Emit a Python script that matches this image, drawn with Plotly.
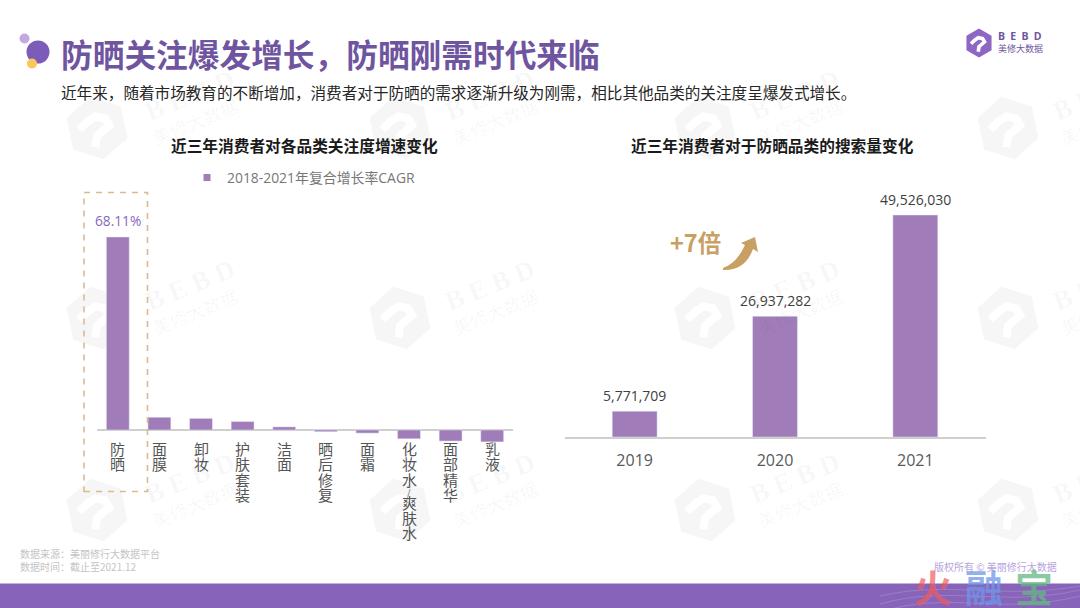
import math
import plotly.graph_objects as go

# ---------- data ----------
categories = ["防晒", "面膜", "卸妆", "护肤套装", "洁面", "晒后修复", "面霜", "化妆水/爽肤水", "面部精华", "乳液"]
cagr_values = [68.11, 4.5, 4.1, 3.0, 1.1, -0.6, -1.1, -3.1, -3.9, -4.2]
years = ["2019", "2020", "2021"]
search_values = [5771709, 26937282, 49526030]

W, H = 1080, 608
CJK = "Noto Sans CJK SC"
SANS = "Open Sans, Noto Sans CJK SC, sans-serif"
BAR = "#a07cb8"


def px(x):
    return x / W


def py(y):
    return 1 - y / H


def path(points, close=True):
    s = "M" + " L".join(f"{px(x):.5f},{py(y):.5f}" for x, y in points)
    return s + (" Z" if close else "")


shapes, annotations = [], []


def text(x, y, s, size, color, bold=False, anchor="left", family=SANS, angle=0):
    annotations.append(dict(xref="paper", yref="paper", x=px(x), y=py(y), text=f"<b>{s}</b>" if bold else s,
                            showarrow=False, xanchor=anchor, yanchor="middle", textangle=angle, borderpad=0,
                            font=dict(size=size, color=color, family=family)))


def hexagon(cx, cy, r, fill, layer="below", rot=12):
    pts = []
    for i in range(6):
        a = math.radians(rot + 90 + i * 60)
        pts.append((cx + r * math.cos(a), cy - r * math.sin(a)))
    shapes.append(dict(type="path", xref="paper", yref="paper", path=path(pts), fillcolor=fill,
                       line=dict(width=0), layer=layer))
    hook = [(cx + r * lx, cy + r * ly) for lx, ly in
            [(-.55, .05), (-.3, -.2), (-.05, -.36), (.25, -.3), (.38, -.08), (.15, .12), (.0, .25), (-.05, .6)]]
    shapes.append(dict(type="path", xref="paper", yref="paper", path=path(hook, close=False),
                       line=dict(color="white", width=max(2, r * .25)), fillcolor="rgba(0,0,0,0)", layer=layer))


def circle(cx, cy, r, color):
    shapes.append(dict(type="circle", xref="paper", yref="paper", x0=px(cx - r), x1=px(cx + r),
                       y0=py(cy + r), y1=py(cy - r), fillcolor=color, line=dict(width=0), layer="above"))


# ---------- background watermark ----------
for hx, hy in [(x, y) for x in (97, 400, 705, 1008) for y in (128, 318, 510)]:
    hexagon(hx, hy, 32, "#f6f6f6")
for tx, ty in [(x, y) for x in (190, 490, 795, 1098) for y in (95, 285, 478)]:
    text(tx, ty, "B E B D", 27, "rgba(0,0,0,0.04)", bold=True, anchor="center", family="Liberation Serif", angle=-22)
    text(tx + 5, ty + 26, "美修大数据", 18, "rgba(0,0,0,0.04)", anchor="center", family=CJK, angle=-22)

# ---------- header ----------
circle(24.5, 38.5, 5, "#c3a9e0")
circle(38, 52, 11.5, "#7d5bb8")
circle(32, 63.5, 5, "#fbc75c")
text(60, 53, "防晒关注爆发增长，防晒刚需时代来临", 31.7, "#6f559f", bold=True, family=CJK)
text(60, 92, "近年来，随着市场教育的不断增加，消费者对于防晒的需求逐渐升级为刚需，相比其他品类的关注度呈爆发式增长。",
     15.6, "#262626", family=CJK)
hexagon(979, 43, 14.5, "#8e66c4", layer="above", rot=0)
text(1020, 36, "B\u2002E\u2002B\u2002D", 10.5, "#6f559f", bold=True, anchor="center", family="Open Sans")
text(1020, 49, "美修大数据", 9, "#6f559f", anchor="center", family=CJK)

# ---------- chart titles ----------
text(304, 146, "近三年消费者对各品类关注度增速变化", 15.7, "#1a1a1a", bold=True, anchor="center", family=CJK)
text(772, 145, "近三年消费者对于防晒品类的搜索量变化", 15.7, "#1a1a1a", bold=True, anchor="center", family=CJK)

# ---------- left vertical category labels ----------
for cat in categories:
    offset = 18.5
    for ch in cat:
        if ch == "/":
            offset -= 2
        annotations.append(dict(xref="x", yref="y", x=cat, y=0, yshift=-offset, text=ch, showarrow=False,
                                xanchor="center", yanchor="middle",
                                font=dict(size=9 if ch == "/" else 15, color="#555555", family=CJK)))
        offset += 10 if ch == "/" else 15.3

# ---------- value labels ----------
annotations.append(dict(xref="x", yref="y", x=categories[0], y=cagr_values[0], yshift=16,
                        text=f"{cagr_values[0]:.2f}%", showarrow=False, xanchor="center", yanchor="middle",
                        font=dict(size=13.7, color="#8a68bc", family=SANS)))
for year, value in zip(years, search_values):
    annotations.append(dict(xref="x2", yref="y2", x=years.index(year), y=value, yshift=16, text=f"{value:,}",
                            showarrow=False, xanchor="center", yanchor="middle",
                            font=dict(size=14, color="#404040", family=SANS)))

# ---------- highlight frame ----------
shapes.append(dict(type="rect", xref="paper", yref="paper", x0=px(84), x1=px(147.5), y0=py(491.5), y1=py(192.5),
                   line=dict(color="#dcb98f", width=1.6, dash="6px,6px"), fillcolor="rgba(0,0,0,0)", layer="above"))

# ---------- growth arrow ----------
text(695, 242, "+7倍", 23.5, "#c9a063", bold=True, anchor="center", family=CJK)
shapes.append(dict(type="path", xref="paper", yref="paper", fillcolor="#c9a063", line=dict(width=0), layer="above",
                   path=(f"M{px(723):.5f},{py(268):.5f} Q{px(737):.5f},{py(263):.5f} {px(745):.5f},{py(245):.5f} "
                         f"L{px(741):.5f},{py(243):.5f} L{px(755):.5f},{py(237):.5f} L{px(758):.5f},{py(252):.5f} "
                         f"L{px(753):.5f},{py(249):.5f} Q{px(745):.5f},{py(271):.5f} {px(723):.5f},{py(270):.5f} Z")))

# ---------- footer ----------
shapes.append(dict(type="rect", xref="paper", yref="paper", x0=0, x1=1, y0=0, y1=py(583.5),
                   fillcolor="#8764ba", line=dict(width=0), layer="above"))
for a, b in [(590, 604), (596, 612), (586, 596)]:
    shapes.append(dict(type="path", xref="paper", yref="paper", layer="above", fillcolor="rgba(0,0,0,0)",
                       line=dict(color="rgba(255,255,255,0.16)", width=1),
                       path=(f"M{px(880):.5f},{py(b):.5f} C{px(950):.5f},{py(a - 6):.5f} {px(1000):.5f},"
                             f"{py(b + 4):.5f} {px(1080):.5f},{py(a):.5f}")))
text(19, 553, "数据来源：美丽修行大数据平台", 10, "#c4c4c4", family=CJK)
text(19, 566, "数据时间：截止至2021.12", 10, "#c4c4c4", family=CJK)
text(1058, 566, "版权所有 © 美丽修行大数据", 10, "#b8a4de", anchor="right", family=CJK)
text(933, 585, "<b>火</b>", 38, "rgba(240,90,90,0.7)", anchor="center", family=CJK)
text(984, 585, "<b>融</b>", 38, "rgba(110,150,235,0.75)", anchor="center", family=CJK)
text(1034, 585, "<b>宝</b>", 38, "rgba(100,185,130,0.75)", anchor="center", family=CJK)

# ---------- figure ----------
LEFT_SCALE = 193 / 68.11
L_MIN, L_MAX = -4.25, 80
R_SCALE = 222 / 49526030
R_MAX = 60000000

fig = go.Figure()
fig.add_trace(go.Bar(x=categories, y=cagr_values, marker_color=BAR, width=0.55, showlegend=False,
                     xaxis="x", yaxis="y"))
fig.add_trace(go.Scatter(x=[None], y=[None], mode="markers", name="2018-2021年复合增长率CAGR",
                         marker=dict(symbol="square", size=7, color=BAR), xaxis="x", yaxis="y", showlegend=True))
fig.add_trace(go.Bar(x=years, y=search_values, marker_color=BAR, width=0.32, showlegend=False,
                     xaxis="x2", yaxis="y2"))

fig.update_layout(
    width=W, height=H, margin=dict(l=0, r=0, t=0, b=0), autosize=False,
    paper_bgcolor="white", plot_bgcolor="rgba(0,0,0,0)", bargap=0.45,
    font=dict(family=SANS),
    shapes=shapes, annotations=annotations,
    legend=dict(x=px(187), y=py(178), xanchor="left", yanchor="middle", bgcolor="rgba(0,0,0,0)",
                font=dict(size=13.9, color="#777777", family=SANS)),
    xaxis=dict(domain=[px(97), px(513)], anchor="y", showticklabels=False, ticks="", showline=False,
               showgrid=False, zeroline=False, type="category", automargin=False,
               categoryorder="array", categoryarray=categories, range=[-0.5, 9.5]),
    yaxis=dict(domain=[py(430 - L_MIN * LEFT_SCALE), py(430 - L_MAX * LEFT_SCALE)], range=[L_MIN, L_MAX],
               visible=True, showticklabels=False, ticks="", showgrid=False, showline=False, automargin=False,
               zeroline=True, zerolinecolor="#cfcfcf", zerolinewidth=1.5),
    xaxis2=dict(domain=[px(564.5), px(985.5)], anchor="y2", showline=True, linecolor="#cfcfcf", linewidth=1.5,
                type="category", categoryorder="array", categoryarray=years, range=[-0.5, 2.5], automargin=False,
                ticks="outside", ticklen=8, tickcolor="rgba(0,0,0,0)", showgrid=False,
                tickfont=dict(size=16, color="#595959", family=SANS)),
    yaxis2=dict(domain=[py(437), py(437 - R_MAX * R_SCALE)], range=[0, R_MAX], anchor="x2", automargin=False,
                showticklabels=False, ticks="", showgrid=False, showline=False, zeroline=False),
)

fig.write_html("out.html", config=dict(displayModeBar=False),
               post_script="document.body.style.margin='0';document.body.style.overflow='hidden';")
